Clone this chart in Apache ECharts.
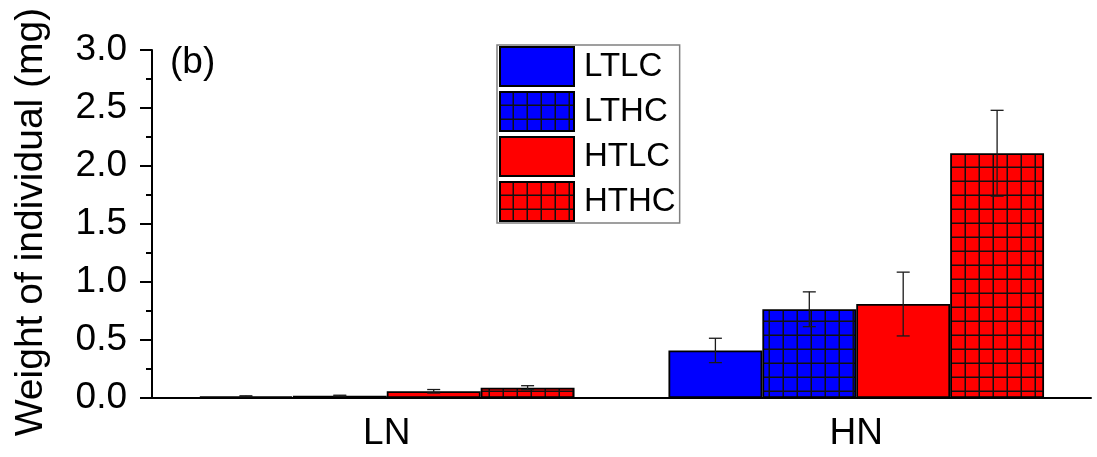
<!DOCTYPE html>
<html>
<head>
<meta charset="utf-8">
<script src="https://cdn.jsdelivr.net/npm/echarts@6/dist/echarts.min.js"></script>
<style>
  html, body { margin: 0; padding: 0; background: #fff; }
  #chart { width: 1097px; height: 457px; }
</style>
</head>
<body>
<div id="chart"></div>
<script>
// Nitrogen level groups on the x axis
const categories = ['LN', 'HN'];
// Treatment names (temperature x CO2)
const seriesNames = ['LTLC', 'LTHC', 'HTLC', 'HTHC'];
// Mean individual weight (mg) per treatment, ordered as categories
const meanLTLC = [0.015, 0.41];
const meanLTHC = [0.02, 0.765];
const meanHTLC = [0.058, 0.81];
const meanHTHC = [0.089, 2.11];
// Error half-widths (mg)
const errLTLC = [0.004, 0.105];
const errLTHC = [0.004, 0.15];
const errHTLC = [0.015, 0.275];
const errHTHC = [0.017, 0.37];
// Y axis ticks
const yTicks = ['0.0', '0.5', '1.0', '1.5', '2.0', '2.5', '3.0'];

const FONT = 'Liberation Sans, Arial, sans-serif';
const BLUE = '#0000ff';
const RED = '#ff0000';

// Cross-hatched fill: solid colour with a black square grid
function gridPattern(fill) {
  const size = 14;
  const c = document.createElement('canvas');
  c.width = size; c.height = size;
  const ctx = c.getContext('2d');
  ctx.fillStyle = fill;
  ctx.fillRect(0, 0, size, size);
  ctx.fillStyle = '#111';
  ctx.fillRect(size - 1.5, 0, 1.5, size);
  ctx.fillRect(0, size - 1.5, size, 1.5);
  return { image: c, repeat: 'repeat' };
}

const fills = [BLUE, gridPattern(BLUE), RED, gridPattern(RED)];
const means = [meanLTLC, meanLTHC, meanHTLC, meanHTHC];
const errs = [errLTLC, errLTHC, errHTLC, errHTHC];

const barSeries = seriesNames.map((name, k) => ({
  name: name,
  type: 'bar',
  data: means[k],
  barGap: '0%',
  barCategoryGap: '20%',
  itemStyle: { color: fills[k], borderColor: '#000', borderWidth: 1.8 },
  emphasis: { disabled: true },
  z: 2
}));

// Error bars, offset to sit on the centre of each bar in the group
const errSeries = seriesNames.map((name, k) => ({
  type: 'custom',
  name: name + ' err',
  z: 10,
  silent: true,
  data: categories.map((c, i) => [i, means[k][i], errs[k][i]]),
  renderItem: function (params, api) {
    const cat = api.value(0), m = api.value(1), e = api.value(2);
    const band = api.size([1, 0])[0];
    const barW = band * 0.8 / seriesNames.length;
    const cx = api.coord([cat, 0])[0] + (k - (seriesNames.length - 1) / 2) * barW;
    const yTop = api.coord([cat, m + e])[1];
    const yBot = api.coord([cat, m - e])[1];
    const cap = 6.5;
    const style = { stroke: '#1a1a1a', lineWidth: 1.3 };
    return {
      type: 'group',
      children: [
        { type: 'line', shape: { x1: cx, y1: yTop, x2: cx, y2: yBot }, style: style },
        { type: 'line', shape: { x1: cx - cap, y1: yTop, x2: cx + cap, y2: yTop }, style: style },
        { type: 'line', shape: { x1: cx - cap, y1: yBot, x2: cx + cap, y2: yBot }, style: style }
      ]
    };
  }
}));

const chart = echarts.init(document.getElementById('chart'), null, { renderer: 'canvas' });
chart.setOption({
  animation: false,
  backgroundColor: '#fff',
  grid: { left: 152, right: 6, top: 50, bottom: 59, containLabel: false },
  legend: {
    data: seriesNames,
    orient: 'vertical',
    left: 497,
    top: 45,
    icon: 'rect',
    itemWidth: 74,
    itemHeight: 39,
    itemGap: 4,
    padding: [1, 4, 1, 2],
    borderColor: '#808080',
    borderWidth: 1.5,
    backgroundColor: '#fff',
    selectedMode: false,
    itemStyle: { borderColor: '#000', borderWidth: 2 },
    textStyle: { fontFamily: FONT, fontSize: 33, color: '#000', padding: [0, 0, 0, 5] }
  },
  xAxis: [
    {
      type: 'category',
      data: categories,
      axisLine: { lineStyle: { color: '#000', width: 2 } },
      axisTick: { alignWithLabel: true, length: 13, lineStyle: { color: '#000', width: 2 } },
      axisLabel: { fontFamily: FONT, fontSize: 37, color: '#000', margin: 17 }
    },
    {
      // boundary ticks between groups
      type: 'category',
      data: categories,
      position: 'bottom',
      axisLine: { show: false },
      axisTick: { length: 5, lineStyle: { color: '#000', width: 2 } },
      axisLabel: { show: false }
    }
  ],
  yAxis: {
    type: 'value',
    min: 0,
    max: 3,
    interval: 0.5,
    axisLine: { show: true, lineStyle: { color: '#000', width: 2 } },
    axisTick: { show: true, length: 12, lineStyle: { color: '#000', width: 2 } },
    minorTick: { show: true, splitNumber: 2, length: 6, lineStyle: { color: '#000', width: 2 } },
    splitLine: { show: false },
    axisLabel: {
      fontFamily: FONT, fontSize: 37, color: '#000', margin: 25,
      formatter: function (v) { return yTicks[Math.round(v / 0.5)]; }
    }
  },
  graphic: [
    {
      type: 'text',
      x: 31, y: 222,
      rotation: Math.PI / 2,
      style: {
        text: 'Weight of individual (mg)',
        font: '39px ' + FONT,
        fill: '#000',
        align: 'center',
        verticalAlign: 'middle'
      }
    },
    {
      type: 'text',
      x: 170, y: 63,
      style: {
        text: '(b)',
        font: '37px ' + FONT,
        fill: '#000',
        align: 'left',
        verticalAlign: 'middle'
      }
    }
  ],
  series: barSeries.concat(errSeries)
});
</script>
</body>
</html>
